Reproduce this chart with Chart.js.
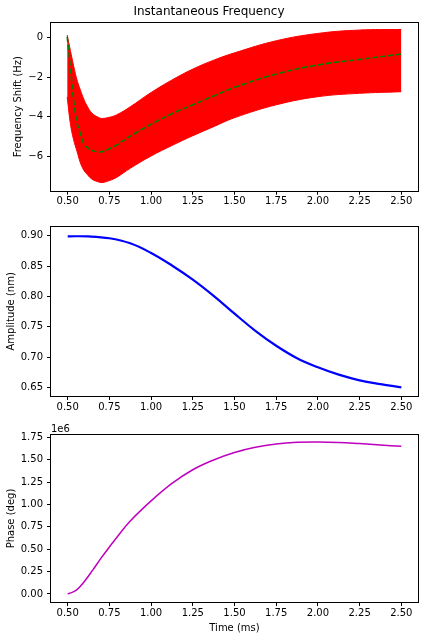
<!DOCTYPE html>
<html>
<head>
<meta charset="utf-8">
<script src="https://cdn.jsdelivr.net/npm/chart.js@4.4.0/dist/chart.umd.min.js"></script>
<style>
  body { margin: 0; background: #fff; }
  #wrap { position: relative; width: 424px; height: 640px; }
  canvas { position: absolute; left: 0; }
</style>
</head>
<body>
<div id="wrap">
  <canvas id="freqChart" width="424" height="212" style="top:0px"></canvas>
  <canvas id="ampChart" width="424" height="204" style="top:212px"></canvas>
  <canvas id="phaseChart" width="424" height="224" style="top:416px"></canvas>
</div>
<script>
// instantaneous frequency: envelope of the fast oscillation and its mean
var bandTime = [0.497, 0.516, 0.536, 0.556, 0.576, 0.596, 0.616, 0.646, 0.686, 0.706, 0.75, 0.795, 0.875, 1.0, 1.125, 1.25, 1.375, 1.5, 1.75, 2.0, 2.25, 2.5];
var freqUpper = [0.12, -0.65, -1.45, -2.15, -2.65, -3.1, -3.45, -3.83, -4.04, -4.09, -4.03, -3.9, -3.5, -2.78, -2.15, -1.6, -1.15, -0.78, -0.17, 0.2, 0.37, 0.40];
var freqLower = [-3.0, -4.34, -5.18, -5.75, -6.32, -6.69, -6.9, -7.15, -7.29, -7.32, -7.22, -7.05, -6.6, -5.98, -5.45, -4.96, -4.5, -4.05, -3.4, -2.99, -2.82, -2.74];
var freqMean = [0.03, -1.5, -3.2, -4.3, -4.85, -5.35, -5.55, -5.7, -5.77, -5.76, -5.62, -5.42, -4.98, -4.38, -3.85, -3.4, -2.95, -2.52, -1.85, -1.39, -1.11, -0.84];

// amplitude (nm)
var ampTime = [0.5, 0.625, 0.75, 0.875, 1.0, 1.125, 1.25, 1.375, 1.5, 1.625, 1.75, 1.875, 2.0, 2.125, 2.25, 2.375, 2.5];
var ampValues = [0.899, 0.8988, 0.8958, 0.8875, 0.8716, 0.851, 0.8277, 0.801, 0.7718, 0.7435, 0.719, 0.6985, 0.6835, 0.6714, 0.6621, 0.6558, 0.6506];

// phase (deg)
var phaseTime = [0.5, 0.55, 0.6, 0.65, 0.7, 0.75, 0.8, 0.875, 1.0, 1.125, 1.25, 1.375, 1.5, 1.625, 1.75, 1.875, 2.0, 2.125, 2.25, 2.375, 2.5];
var phaseValues = [0, 40000, 140000, 266000, 400000, 525000, 645000, 815000, 1040000, 1235000, 1388000, 1497000, 1580000, 1638000, 1675000, 1694000, 1698000, 1693000, 1680000, 1665000, 1649000];

// tick labels
var timeTicks = [0.5, 0.75, 1.0, 1.25, 1.5, 1.75, 2.0, 2.25, 2.5];
var freqTicks = [-6, -4, -2, 0];
var ampTicks = [0.65, 0.70, 0.75, 0.80, 0.85, 0.90];
var phaseTicks = [0, 250000, 500000, 750000, 1000000, 1250000, 1500000, 1750000];

var FONT = "'DejaVu Sans', sans-serif";
Chart.defaults.font.family = FONT;
Chart.defaults.font.size = 10;
Chart.defaults.color = '#000';

function pts(xs, ys) {
    return xs.map(function(x, i) { return { x: x, y: ys[i] }; });
}

// matplotlib style box around the plot area
var frame = {
    id: 'frame',
    afterDraw: function(chart) {
        var a = chart.chartArea, ctx = chart.ctx;
        ctx.save();
        ctx.strokeStyle = '#000';
        ctx.lineWidth = 1;
        ctx.strokeRect(Math.round(a.left) - 0.5, Math.round(a.top) - 0.5,
            Math.round(a.right) - Math.round(a.left) + 1, Math.round(a.bottom) - Math.round(a.top) + 1);
        ctx.restore();
    }
};

function xAxis(height, title) {
    return {
        type: 'linear',
        min: 0.4,
        max: 2.6,
        afterBuildTicks: function(s) { s.ticks = timeTicks.map(function(v) { return { value: v }; }); },
        afterFit: function(s) { s.height = height; },
        ticks: { padding: 1, maxRotation: 0, callback: function(v) { return v.toFixed(2); } },
        grid: { drawOnChartArea: false, drawTicks: true, tickLength: 4, color: '#000', lineWidth: 1 },
        border: { display: false },
        title: title ? { display: true, text: title, padding: { top: 0, bottom: 6 } } : { display: false }
    };
}

function yAxis(min, max, tickList, fmt, title, titlePad) {
    return {
        type: 'linear',
        min: min,
        max: max,
        afterBuildTicks: function(s) { s.ticks = tickList.map(function(v) { return { value: v }; }); },
        afterFit: function(s) { s.width = 51; },
        ticks: { padding: 4, callback: fmt },
        grid: { drawOnChartArea: false, drawTicks: true, tickLength: 4, color: '#000', lineWidth: 1 },
        border: { display: false },
        title: { display: true, text: title, padding: { top: titlePad, bottom: 0 } }
    };
}

var common = {
    responsive: false,
    animation: false,
    devicePixelRatio: 1,
    elements: { point: { radius: 0 }, line: { tension: 0.4 } }
};

new Chart(document.getElementById('freqChart'), {
    type: 'line',
    data: {
        datasets: [{
            data: pts(bandTime, freqMean),
            borderColor: '#008000',
            borderWidth: 1.6,
            borderDash: [5.5, 2.4],
            fill: false,
            order: 0
        }, {
            data: pts(bandTime, freqUpper),
            borderColor: '#ff0000',
            backgroundColor: '#ff0000',
            borderWidth: 1,
            fill: '+1',
            order: 1
        }, {
            data: pts(bandTime, freqLower),
            borderColor: '#ff0000',
            borderWidth: 1,
            fill: false,
            order: 2
        }]
    },
    options: Object.assign({}, common, {
        layout: { padding: { left: 0, right: 6, top: 0, bottom: 0 } },
        plugins: {
            legend: { display: false },
            tooltip: { enabled: false },
            title: { display: true, text: 'Instantaneous Frequency', color: '#000',
                font: { size: 12, weight: 'normal' }, padding: { top: 5, bottom: 3.3 } }
        },
        scales: {
            x: xAxis(21.3),
            y: yAxis(-7.73, 0.74, freqTicks, function(v) { return v < 0 ? '\u2212' + Math.abs(v) : String(v); }, 'Frequency Shift (Hz)', 12.3)
        }
    }),
    plugins: [frame]
});

new Chart(document.getElementById('ampChart'), {
    type: 'line',
    data: {
        datasets: [{
            data: pts(ampTime, ampValues),
            borderColor: '#0000ff',
            borderWidth: 2.2,
            fill: false
        }]
    },
    options: Object.assign({}, common, {
        layout: { padding: { left: 0, right: 6, top: 14.7, bottom: 0 } },
        plugins: { legend: { display: false }, tooltip: { enabled: false } },
        scales: {
            x: xAxis(20),
            y: yAxis(0.6363, 0.9148, ampTicks, function(v) { return v.toFixed(2); }, 'Amplitude (nm)', 5)
        }
    }),
    plugins: [frame]
});

// offset text above the phase axis
var offsetLabel = {
    id: 'offsetLabel',
    afterDraw: function(chart) {
        var ctx = chart.ctx;
        ctx.save();
        ctx.font = '10px ' + FONT;
        ctx.fillStyle = '#000';
        ctx.textAlign = 'left';
        ctx.textBaseline = 'alphabetic';
        ctx.fillText('1e6', chart.chartArea.left, chart.chartArea.top - 3);
        ctx.restore();
    }
};

new Chart(document.getElementById('phaseChart'), {
    type: 'line',
    data: {
        datasets: [{
            data: pts(phaseTime, phaseValues),
            borderColor: '#bf00bf',
            borderWidth: 1.5,
            fill: false
        }]
    },
    options: Object.assign({}, common, {
        layout: { padding: { left: 0, right: 6, top: 19, bottom: 0 } },
        plugins: { legend: { display: false }, tooltip: { enabled: false } },
        scales: {
            x: xAxis(38, 'Time (ms)'),
            y: yAxis(-89400, 1776000, phaseTicks, function(v) { return (v / 1e6).toFixed(2); }, 'Phase (deg)', 5)
        }
    }),
    plugins: [frame, offsetLabel]
});
</script>
</body>
</html>
